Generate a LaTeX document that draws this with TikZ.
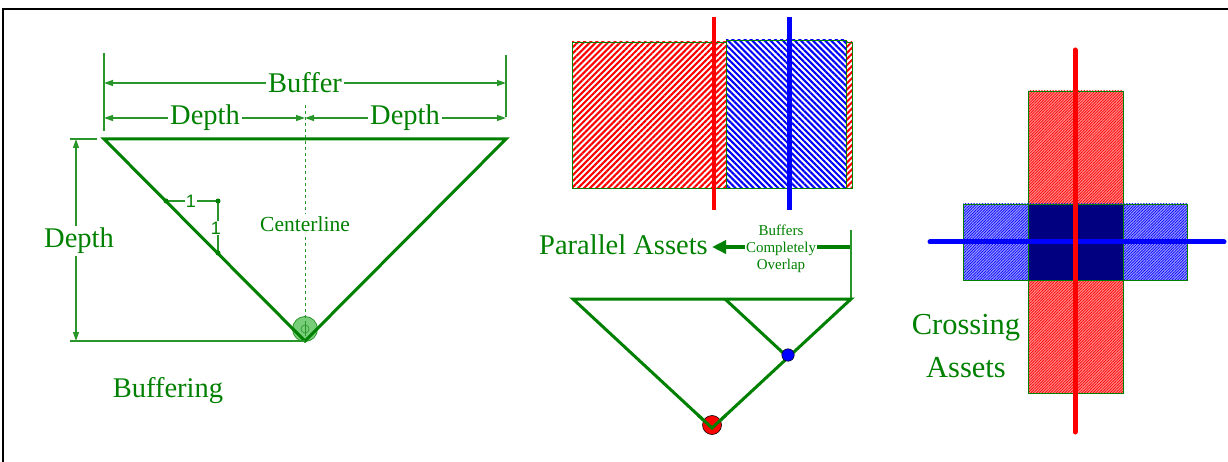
\documentclass[tikz,border=0pt]{standalone}
\usepackage{fontspec}
\setmainfont{Liberation Serif}
\newfontfamily\sansf{Liberation Sans}
\usetikzlibrary{arrows.meta,patterns.meta}
\definecolor{dg}{RGB}{0,128,0}
\definecolor{lg}{RGB}{40,150,40}
\definecolor{navyc}{RGB}{0,0,128}
\definecolor{cgreen}{RGB}{120,205,120}
\begin{document}
\begin{tikzpicture}[x=1pt,y=-1pt,
  tri/.style={draw=dg,line width=3pt,line join=miter},
  dim/.style={draw=lg,line width=1.3pt},
  dimarr/.style={dim,{Triangle[length=9pt,width=6pt]}-{Triangle[length=9pt,width=6pt]}},
  lbl/.style={text=dg,font=\fontsize{28.5}{31}\selectfont,fill=white,inner sep=2pt},
  onelbl/.style={text=dg,font=\sansf\fontsize{18}{20}\selectfont,fill=white,inner sep=1pt},
  gdot/.style={fill=dg},
  border/.style={draw=dg,line width=0.9pt}]
\useasboundingbox (0,0) rectangle (1228,462);
% frame
\draw[black,line width=2pt] (3,462) -- (3,9) -- (1228,9);

% ---------- left diagram ----------
\coordinate (TL) at (104,139);
\coordinate (TR) at (506,139);
\coordinate (AP) at (305,341);
\coordinate (CLtop) at (305,105);
\node[circle,fill=cgreen,draw=lg,line width=0.8pt,minimum size=25pt,inner sep=0pt] (clc) at (305,329) {};
\draw[lg,line width=0.6pt] (clc.center) circle (4pt);
\draw[lg,line width=0.6pt] ([yshift=6pt]clc.center) -- ([yshift=-6pt]clc.center);
\draw[dim,dashed,line width=1pt] (CLtop) -- (AP);
\draw[tri] (TL) -- (TR) -- (AP) -- cycle;
% extension lines
\coordinate (eL1) at (104,53); \coordinate (eL2) at (104,131);
\coordinate (eR1) at (506,55); \coordinate (eR2) at (506,117);
\draw[dim] (eL1) -- (eL2);
\draw[dim] (eR1) -- (eR2);
\coordinate (bL) at (104,83); \coordinate (bR) at (506,83);
\draw[dimarr] (bL) -- (bR);
\node[lbl] (buffer) at (305,83) {Buffer};
\coordinate (dL) at (104,118); \coordinate (dM) at (305,118); \coordinate (dR) at (506,118);
\draw[dimarr] (dL) -- (dM);
\draw[dimarr] (dM) -- (dR);
\node[lbl] (depth1) at (205,118) {Depth};
\node[lbl] (depth2) at (405,118) {Depth};
% vertical dimension
\coordinate (vT) at (76,139); \coordinate (vB) at (76,341);
\coordinate (hT1) at (70,139); \coordinate (hT2) at (97,139);
\coordinate (hB1) at (70,341);
\draw[dim] (hT1) -- (hT2);
\draw[dim] (hB1) -- (AP);
\draw[dimarr] (vT) -- (vB);
\node[lbl] (depth3) at (79,241) {Depth};
% slope indicator
\coordinate (s1) at (166,201); \coordinate (s2) at (218,201); \coordinate (s3) at (218,253);
\draw[dim] (s1) -- (s2) -- (s3);
\foreach \p in {s1,s2,s3} \fill[gdot] (\p) circle (2.5pt);
\node[onelbl] (one1) at (191,201) {1};
\node[onelbl] (one2) at (216,228) {1};
\node[lbl,font=\fontsize{21.5}{24}\selectfont] (cline) at (305,224) {Centerline};
\node[lbl,fill=none] (buffering) at (168,391) {Buffering};

% ---------- middle diagram ----------
\draw[border,pattern={Lines[angle=45,distance=4.3pt,line width=2.1pt]},pattern color=red] (572,42) rectangle (852,188);
\fill[white] (726,40) rectangle (846,188);
\draw[border,pattern={Lines[angle=-45,distance=4.3pt,line width=2.1pt]},pattern color=blue] (726,40) rectangle (846,188);
\coordinate (r1) at (714,17); \coordinate (r2) at (714,210);
\coordinate (b1) at (789,17); \coordinate (b2) at (789,210);
\draw[red,line width=4pt] (r1) -- (r2);
\draw[blue,line width=5pt] (b1) -- (b2);

\node[lbl,fill=none,anchor=east,inner sep=1pt] (par) at (709,245) {Parallel Assets};
\coordinate (aS) at (851,247); \coordinate (aE) at (712,247);
\draw[dg,line width=4pt,-{Triangle[length=14pt,width=13pt]}] (aS) -- (aE);
\node[text=dg,fill=white,inner sep=1pt,align=center,font=\fontsize{15}{17}\selectfont] (overlap) at (781,249) {Buffers\\Completely\\Overlap};
\coordinate (x1) at (851,230); \coordinate (x2) at (851,299);
\draw[dim] (x1) -- (x2);
\coordinate (mL) at (573,299); \coordinate (mR) at (851,299); \coordinate (mA) at (712,428);
\coordinate (iT) at (725,299); \coordinate (iB) at (788,357.5);
\draw[tri] (mL) -- (mR) -- (mA) -- cycle;
\draw[tri] (iT) -- (iB);
\node[circle,fill=red,draw=black,line width=0.6pt,minimum size=19pt,inner sep=0pt] (reddot) at (712,425) {};
\draw[dg,line width=3pt] (mA) ++(-14,-13) -- (mA) -- ++(14,-13);
\node[circle,fill=blue,draw=black,line width=0.5pt,minimum size=12.5pt,inner sep=0pt] (bluedot) at (788,355) {};

% ---------- right diagram ----------
\fill[red!45] (1028,91) rectangle (1123,393);
\draw[border,pattern={Lines[angle=45,distance=2pt,line width=0.7pt]},pattern color=red] (1028,91) rectangle (1123,393);
\fill[blue!38] (963,204) rectangle (1187,280);
\draw[border,pattern={Lines[angle=45,distance=2pt,line width=0.7pt]},pattern color=blue] (963,204) rectangle (1187,280);
\draw[border,fill=navyc] (1028,204) rectangle (1123,280);
\coordinate (hb1) at (930,242); \coordinate (hb2) at (1224,242);
\coordinate (vr1) at (1075,50); \coordinate (vr2) at (1075,432);
\draw[blue,line width=5pt,line cap=round] (hb1) -- (hb2);
\draw[red,line width=5pt,line cap=round] (vr1) -- (vr2);
\node[text=dg,align=center,font=\fontsize{30.5}{43}\selectfont] (cross) at (966,346) {Crossing\\Assets};
\end{tikzpicture}
\end{document}
